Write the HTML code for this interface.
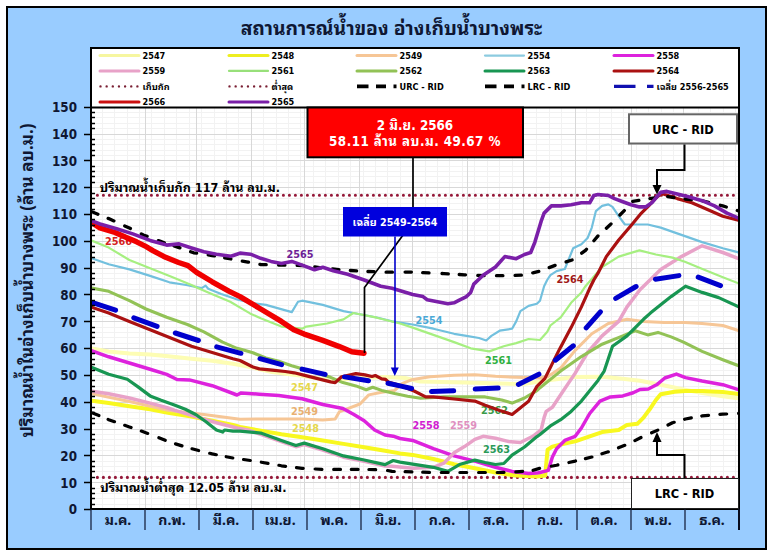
<!DOCTYPE html><html><head><meta charset="utf-8"><style>html,body{margin:0;padding:0;background:#fff;width:773px;height:556px;overflow:hidden}svg{display:block}text{font-family:'DejaVu Sans Condensed','Noto Sans Thai Looped','Loma',sans-serif;font-weight:bold}</style></head><body>
<svg width="773" height="556" viewBox="0 0 773 556">
<rect x="7" y="7" width="759" height="542" fill="#99ccff" stroke="#000" stroke-width="2"/>
<text x="391.5" y="35" text-anchor="middle" font-size="19.3" fill="#0f1733" style="font-family:'Noto Sans Thai Looped','Loma','DejaVu Sans Condensed',sans-serif">สถานการณ์น้ำของ อ่างเก็บน้ำบางพระ</text>
<rect x="91" y="107" width="648" height="401.5" fill="#fff"/>
<path d="M92 504.5H738 M92 498.5H738 M92 493.5H738 M92 488.5H738 M92 477.5H738 M92 471.5H738 M92 466.5H738 M92 461.5H738 M92 450.5H738 M92 445.5H738 M92 439.5H738 M92 434.5H738 M92 423.5H738 M92 418.5H738 M92 412.5H738 M92 407.5H738 M92 396.5H738 M92 391.5H738 M92 386.5H738 M92 380.5H738 M92 370.5H738 M92 364.5H738 M92 359.5H738 M92 353.5H738 M92 343.5H738 M92 337.5H738 M92 332.5H738 M92 327.5H738 M92 316.5H738 M92 311.5H738 M92 305.5H738 M92 300.5H738 M92 289.5H738 M92 284.5H738 M92 278.5H738 M92 273.5H738 M92 262.5H738 M92 257.5H738 M92 252.5H738 M92 246.5H738 M92 235.5H738 M92 230.5H738 M92 225.5H738 M92 219.5H738 M92 209.5H738 M92 203.5H738 M92 198.5H738 M92 193.5H738 M92 182.5H738 M92 176.5H738 M92 171.5H738 M92 166.5H738 M92 155.5H738 M92 150.5H738 M92 144.5H738 M92 139.5H738 M92 128.5H738 M92 123.5H738 M92 117.5H738 M92 112.5H738 M102.5 108V508 M114.5 108V508 M127.5 108V508 M139.5 108V508 M151.5 108V508 M164.5 108V508 M176.5 108V508 M189.5 108V508 M201.5 108V508 M214.5 108V508 M226.5 108V508 M238.5 108V508 M263.5 108V508 M276.5 108V508 M288.5 108V508 M300.5 108V508 M313.5 108V508 M325.5 108V508 M338.5 108V508 M350.5 108V508 M363.5 108V508 M375.5 108V508 M387.5 108V508 M400.5 108V508 M425.5 108V508 M437.5 108V508 M449.5 108V508 M462.5 108V508 M474.5 108V508 M487.5 108V508 M499.5 108V508 M512.5 108V508 M536.5 108V508 M549.5 108V508 M561.5 108V508 M586.5 108V508 M599.5 108V508 M611.5 108V508 M623.5 108V508 M636.5 108V508 M648.5 108V508 M661.5 108V508 M673.5 108V508 M698.5 108V508 M710.5 108V508 M723.5 108V508 M735.5 108V508" stroke="#f2f2f2" stroke-width="1" fill="none"/>
<path d="M92 482.5H738 M92 455.5H738 M92 429.5H738 M92 402.5H738 M92 375.5H738 M92 348.5H738 M92 321.5H738 M92 294.5H738 M92 268.5H738 M92 241.5H738 M92 214.5H738 M92 187.5H738 M92 160.5H738 M92 134.5H738 M145.5 108V508 M196.5 108V508 M251.5 108V508 M304.5 108V508 M359.5 108V508 M412.5 108V508 M467.5 108V508 M523.5 108V508 M575.5 108V508 M631.5 108V508 M683.5 108V508" stroke="#d8d8d8" stroke-width="1" fill="none"/>
<line x1="97.4" y1="195.3" x2="738" y2="195.3" stroke="#951a3a" stroke-width="3.1" stroke-dasharray="0 6" stroke-linecap="round"/>
<line x1="97.4" y1="477.4" x2="738" y2="477.4" stroke="#951a3a" stroke-width="3.1" stroke-dasharray="0 6" stroke-linecap="round"/>
<text x="99.8" y="191.6" font-size="12.55" fill="#000">ปริมาณน้ำเก็บกัก 117 ล้าน ลบ.ม.</text>
<text x="100.2" y="491.8" font-size="12.65" fill="#000">ปริมาณน้ำต่ำสุด 12.05 ล้าน ลบ.ม.</text>
<text x="105" y="245" font-size="10.8" fill="#d42020">2566</text>
<text x="286.5" y="258.2" font-size="10.8" fill="#6e1e96">2565</text>
<text x="415.5" y="324.3" font-size="10.8" fill="#49a8d6">2554</text>
<text x="485" y="363.7" font-size="10.8" fill="#2fb040">2561</text>
<text x="556.5" y="283.4" font-size="10.8" fill="#a01818">2564</text>
<text x="291" y="391" font-size="10.8" fill="#e6d84a">2547</text>
<text x="291" y="414.8" font-size="10.8" fill="#e8b070">2549</text>
<text x="292" y="432.4" font-size="10.8" fill="#e6d84a">2548</text>
<text x="412.5" y="428.8" font-size="10.8" fill="#d020d0">2558</text>
<text x="450" y="428.8" font-size="10.8" fill="#e090c0">2559</text>
<text x="481" y="413.8" font-size="10.8" fill="#3a9a48">2562</text>
<text x="483" y="452.7" font-size="10.8" fill="#2a9a58">2563</text>
<defs><clipPath id="pc"><rect x="92" y="108" width="646" height="400"/></clipPath></defs><g clip-path="url(#pc)">
<polyline points="91.0,348.3 108.7,351.4 129.4,353.5 150.1,354.5 170.8,356.6 191.5,358.7 212.2,360.7 232.9,363.8 248.0,366.5 272.0,372.0 300.0,375.5 330.0,380.5 360.0,378.0 385.0,377.0 405.0,378.0 420.0,381.5 464.5,382.5 500.0,383.5 523.0,384.0 550.0,380.0 575.0,377.0 602.1,376.8 622.8,378.8 640.0,380.7 660.7,384.8 681.4,389.0 702.1,393.1 722.8,396.2 739.0,398.3" fill="none" stroke="#fdfdb4" stroke-width="4" stroke-linejoin="round" stroke-linecap="round"/>
<polyline points="91.0,400.5 108.7,403.1 129.4,406.2 150.1,409.3 168.0,412.8 191.5,416.6 212.2,420.7 232.9,424.9 240.0,427.0 260.7,430.6 281.4,434.2 302.1,437.3 322.8,440.4 343.5,443.9 364.2,447.2 385.0,450.7 400.0,453.4 412.7,454.9 433.4,459.0 454.1,464.2 474.8,468.3 495.5,472.5 516.2,475.6 536.9,476.6 545.2,475.6 546.5,461.0 547.6,449.7 552.4,446.6 564.8,443.5 575.2,441.4 589.7,436.3 602.1,432.1 618.7,430.0 627.0,424.9 637.3,423.8 643.5,417.6 649.7,409.3 655.9,400.0 660.7,394.2 674.6,391.7 685.5,391.1 702.1,391.1 722.8,392.1 739.0,394.2" fill="none" stroke="#f8f820" stroke-width="4" stroke-linejoin="round" stroke-linecap="round"/>
<polyline points="91.0,393.5 129.4,401.5 168.0,410.2 204.0,414.5 240.0,419.3 260.7,419.0 281.4,419.0 302.1,419.0 322.8,420.0 335.2,419.0 339.4,411.8 347.7,408.7 360.0,404.0 368.8,394.9 381.7,392.3 394.7,390.4 402.4,383.3 412.8,379.4 430.0,376.8 454.1,375.2 474.8,374.8 495.5,376.3 516.2,377.3 532.8,377.8 540.0,378.0 548.0,376.5 560.7,368.0 575.2,350.4 591.8,333.8 608.3,323.5 627.0,319.3 643.5,321.4 664.2,322.4 684.9,322.4 702.1,323.5 722.8,325.5 739.0,330.7" fill="none" stroke="#f6c696" stroke-width="3" stroke-linejoin="round" stroke-linecap="round"/>
<polyline points="91.0,258.0 108.7,264.2 129.4,269.4 150.1,275.9 169.4,282.3 186.2,285.0 201.7,288.2 205.6,285.6 208.2,288.8 221.2,294.0 238.0,299.8 252.0,303.0 265.9,304.9 291.8,312.1 298.0,301.8 302.1,300.7 322.8,304.9 343.5,311.1 353.4,313.0 376.8,317.5 392.0,321.3 412.7,324.5 433.4,328.7 454.1,333.8 466.5,335.9 479.0,338.0 486.2,340.5 491.4,335.9 499.7,330.7 512.1,328.7 516.2,321.4 520.4,311.1 528.6,305.9 536.9,303.8 540.0,300.7 544.1,286.2 547.2,280.0 550.4,275.2 556.6,271.1 564.8,269.0 569.0,258.7 573.1,248.3 581.4,244.2 587.6,238.0 591.8,227.6 595.9,211.1 602.1,205.9 608.3,204.4 612.5,206.9 618.7,216.2 624.9,224.5 633.2,224.5 647.7,224.5 660.7,227.6 681.4,234.9 702.1,242.1 722.8,248.3 739.0,252.5" fill="none" stroke="#72c0de" stroke-width="2.2" stroke-linejoin="round" stroke-linecap="round"/>
<polyline points="91.0,350.6 108.7,356.8 129.4,363.0 150.1,369.2 166.7,374.4 177.0,379.5 189.4,379.9 212.2,385.7 237.0,395.0 241.2,392.9 259.4,394.2 278.8,395.5 302.1,398.7 322.8,404.5 342.9,408.5 353.9,414.5 364.2,420.7 374.6,430.0 385.0,435.0 393.2,436.2 400.0,438.5 412.7,440.4 433.4,448.7 454.1,455.9 474.8,461.1 495.5,467.3 512.1,471.4 528.6,473.5 536.9,473.1 540.0,472.5 548.3,470.4 552.4,457.0 556.6,448.7 564.8,440.4 575.2,436.3 581.4,428.0 589.7,413.5 600.0,401.1 610.4,396.9 622.8,395.9 633.2,392.8 640.0,389.5 648.3,389.0 656.6,384.8 664.8,378.0 676.4,374.1 685.5,377.6 702.1,381.0 722.8,384.7 739.0,389.8" fill="none" stroke="#dd22dd" stroke-width="3.5" stroke-linejoin="round" stroke-linecap="round"/>
<polyline points="91.0,391.0 108.7,393.8 129.4,398.0 150.1,403.1 168.0,408.0 175.0,410.4 195.7,416.6 216.4,422.8 237.0,428.0 248.0,430.0 260.7,434.3 281.4,441.6 295.9,446.7 304.2,444.5 322.8,450.0 343.5,457.2 364.2,461.3 385.0,466.0 392.0,466.3 412.7,468.3 433.4,467.3 443.8,463.2 454.1,452.8 464.5,446.6 474.8,439.4 483.1,436.3 495.5,438.3 508.0,441.4 520.4,442.5 532.8,436.3 541.1,430.0 544.1,417.6 546.2,411.4 552.4,407.3 560.7,394.8 569.0,382.4 575.2,373.2 587.6,352.5 602.1,335.9 618.7,321.4 627.0,306.9 640.0,289.7 660.7,269.5 681.4,256.6 702.1,245.8 722.8,252.5 739.0,258.7" fill="none" stroke="#e8a2c8" stroke-width="3.5" stroke-linejoin="round" stroke-linecap="round"/>
<polyline points="91.0,240.4 108.7,247.6 129.4,260.0 150.1,268.3 170.8,276.6 191.5,284.9 196.6,287.5 214.7,295.3 230.2,301.7 250.0,313.4 260.7,318.3 281.4,326.6 302.1,328.7 306.3,326.6 327.0,323.5 343.5,319.4 353.4,313.0 376.8,317.7 400.0,323.5 412.7,327.6 433.4,334.9 454.1,342.1 470.7,348.3 489.3,351.4 503.8,346.3 516.2,343.1 528.6,339.0 540.0,340.0 547.3,331.8 550.4,325.5 560.7,317.3 571.1,302.8 581.4,292.4 585.5,286.2 602.1,267.0 618.7,256.6 639.4,250.4 655.9,254.5 672.5,257.6 684.9,261.8 700.0,268.0 722.8,277.3 739.0,283.5" fill="none" stroke="#a6ef80" stroke-width="2.2" stroke-linejoin="round" stroke-linecap="round"/>
<polyline points="91.0,288.0 108.7,291.3 129.4,300.7 146.0,309.0 166.7,317.3 187.4,324.5 203.9,331.8 222.6,342.1 237.0,348.3 240.0,348.9 252.9,352.8 265.9,357.9 278.8,361.2 291.7,365.7 304.7,369.6 317.6,373.5 330.6,377.3 342.9,382.6 355.9,385.9 366.2,389.8 372.7,387.2 381.7,390.4 394.7,393.6 407.6,396.2 420.6,398.2 443.8,396.9 464.5,396.9 485.2,396.9 501.7,400.0 512.1,403.1 524.5,398.0 536.9,390.7 540.0,387.7 560.7,371.1 581.4,356.6 602.1,344.2 622.8,335.9 635.2,330.7 647.7,334.9 658.0,332.4 671.1,336.9 683.5,342.1 702.1,351.4 722.8,359.7 739.0,365.9" fill="none" stroke="#92c256" stroke-width="3.1" stroke-linejoin="round" stroke-linecap="round"/>
<polyline points="91.0,367.0 108.7,374.2 127.3,379.3 137.7,386.6 150.1,395.9 160.5,400.0 175.0,405.2 185.3,409.3 195.7,414.5 206.0,421.8 216.4,430.0 222.6,432.1 224.6,430.0 232.9,431.1 240.0,431.1 260.7,433.1 281.4,440.4 295.9,445.5 304.2,443.1 322.8,448.7 343.5,455.9 364.2,460.0 385.0,464.6 393.2,460.5 400.0,462.1 412.7,464.2 433.4,467.3 447.9,471.4 460.3,464.2 474.8,460.1 485.2,462.5 495.5,464.5 503.8,463.5 512.0,455.2 524.5,447.0 537.0,436.6 540.0,434.5 550.4,425.9 560.7,419.7 571.1,411.4 581.4,401.1 589.7,390.7 598.0,380.4 604.2,371.1 608.3,358.7 612.5,346.3 627.0,335.9 643.5,319.3 650.4,313.1 660.7,304.8 671.1,296.6 685.5,286.2 702.1,292.4 718.7,297.6 739.0,306.9" fill="none" stroke="#189652" stroke-width="3.2" stroke-linejoin="round" stroke-linecap="round"/>
<polyline points="91.0,307.0 108.7,313.1 129.4,321.4 150.1,329.7 170.8,338.0 191.5,346.3 212.2,352.5 232.9,358.7 240.0,360.5 252.9,367.0 259.4,368.9 272.3,370.2 285.3,371.5 294.3,372.8 304.7,375.4 317.6,378.6 330.6,381.9 335.2,382.6 341.6,376.8 355.9,373.6 364.9,374.9 372.0,376.5 375.3,375.5 381.7,378.8 385.6,379.4 388.2,382.0 401.2,385.9 414.1,391.0 425.7,396.9 433.4,396.9 454.1,399.0 474.8,401.1 485.2,405.2 499.7,410.4 512.1,414.5 520.5,407.7 528.6,401.2 536.7,386.7 544.8,378.6 551.3,365.6 559.4,349.4 571.1,327.6 581.4,306.9 589.7,288.3 593.8,280.0 598.0,273.2 606.3,256.6 618.7,240.0 631.1,225.5 641.4,213.1 649.7,204.8 655.9,197.6 662.2,193.5 664.8,194.5 677.3,198.6 691.8,202.8 706.3,209.0 722.8,216.2 739.0,220.4" fill="none" stroke="#aa1111" stroke-width="3.2" stroke-linejoin="round" stroke-linecap="round"/>
<path d="M92.5 212.0 L97.9 214.2 M108.1 218.4 L108.7 218.6 L113.9 220.9 M124.7 225.9 L129.4 228.0 L130.4 228.5 M141.3 233.9 L143.9 235.2 L147.1 236.4 M158.3 240.6 L160.5 241.4 L164.3 242.7 M174.0 245.9 L179.1 247.6 L179.9 247.9 M190.6 251.7 L193.6 252.8 L196.6 253.2 M208.2 254.9 L212.2 255.5 L214.5 255.9 M224.7 257.8 L230.9 259.0 L230.9 259.0 M242.3 261.1 L248.0 262.1 L248.5 262.2 M259.9 264.4 L260.7 264.5 L266.2 264.7 M278.6 265.0 L281.4 265.1 L284.9 265.2 M297.2 265.4 L302.1 265.5 L303.5 265.7 M314.8 267.0 L321.1 267.8 M332.6 269.0 L338.9 269.6 M350.3 270.5 L356.6 270.9 M367.9 271.5 L374.2 271.7 M386.1 272.2 L392.4 272.2 M405.1 272.1 L411.4 272.1 M422.7 272.6 L429.0 272.9 M442.0 273.5 L443.8 273.6 L448.3 273.9 M459.2 274.5 L464.5 274.8 L465.5 274.8 M477.8 275.4 L484.1 275.7 M496.5 275.7 L502.9 275.7 M515.1 275.4 L521.4 275.2 M532.7 272.8 L532.8 272.8 L538.8 271.4 M549.2 267.6 L555.1 265.4 M566.1 261.9 L572.1 260.0 M581.7 253.2 L585.5 250.4 L586.5 249.2 M593.9 240.7 L598.0 235.9 M606.4 228.2 L610.4 224.5 L611.0 223.9 M619.9 215.0 L624.3 210.6 M632.7 201.4 L638.9 200.4 M649.9 198.6 L655.9 197.6 L656.1 197.6 M667.7 196.7 L674.0 197.6 M685.1 199.0 L691.4 199.6 M702.5 200.8 L708.6 202.3 M720.3 205.3 L722.8 205.9 L726.3 207.0 M737.3 210.5 L739.0 211.1" fill="none" stroke="#000000" stroke-width="3.3" stroke-linejoin="round" stroke-linecap="round"/>
<path d="M92.6 413.1 L98.9 415.6 M108.1 419.4 L108.7 419.7 L114.5 421.7 M124.7 425.3 L129.4 426.9 L131.1 427.5 M141.3 431.1 L147.7 433.4 M158.9 437.7 L165.2 440.3 M175.5 443.9 L182.0 445.9 M192.0 448.8 L198.6 450.5 M209.7 453.3 L212.2 453.9 L216.3 454.7 M226.2 456.7 L232.8 458.0 M243.6 459.5 L250.3 460.5 M261.3 462.2 L268.0 463.4 M278.9 465.3 L281.4 465.8 L285.6 466.3 M296.5 467.6 L302.1 468.3 L303.2 468.4 M315.1 469.0 L321.9 469.4 M333.7 469.4 L340.5 469.4 M351.3 469.4 L358.1 469.4 M368.9 469.5 L375.7 469.7 M387.6 470.5 L392.0 471.4 L394.3 471.5 M405.1 471.7 L411.9 471.9 M422.7 472.2 L429.5 472.4 M441.3 472.5 L448.1 472.5 M459.9 472.5 L466.7 472.5 M478.6 472.5 L485.4 472.5 M497.2 472.5 L504.0 472.3 M515.8 471.9 L516.2 471.9 L522.6 471.3 M533.1 470.3 L539.6 468.4 M551.3 466.2 L556.6 465.2 L557.9 464.9 M568.9 462.5 L575.2 461.1 L575.5 461.0 M585.4 458.6 L591.8 457.0 L592.0 457.0 M601.9 453.8 L608.3 451.8 L608.4 451.8 M618.5 447.8 L624.8 445.3 M634.9 440.6 L641.0 437.5 M651.6 432.8 L657.8 430.1 M668.0 425.0 L672.5 422.8 L674.2 422.3 M684.6 419.3 L685.5 419.0 L691.3 417.9 M701.8 416.0 L702.1 415.9 L708.5 415.4 M719.9 414.4 L722.8 414.2 L726.7 414.0 M738.6 413.4 L739.0 413.4" fill="none" stroke="#000000" stroke-width="3.2" stroke-linejoin="round" stroke-linecap="round"/>
<path d="M93.4 302.8 L115.6 310.2 M133.8 317.8 L157.1 326.3 M175.3 333.0 L198.4 340.5 M216.7 346.9 L240.9 353.3 M260.0 358.7 L281.6 364.7 M302.1 369.1 L325.1 374.4 M344.5 376.9 L368.5 380.8 M388.0 383.2 L400.0 385.9 L411.6 388.5 M431.5 391.6 L453.7 390.8 M475.2 389.1 L498.2 388.1 M518.4 384.4 L538.9 374.2 M555.4 360.2 L573.3 345.8 M586.2 327.8 L600.4 311.9 M615.7 298.4 L636.1 286.5 M655.4 279.2 L678.9 275.6 M698.2 277.2 L720.5 285.7 M739.0 293.0" fill="none" stroke="#0000cc" stroke-width="5" stroke-linejoin="round" stroke-linecap="round"/>
<polyline points="91.0,222.0 100.0,228.0 115.0,232.5 125.8,237.3 136.6,241.8 144.7,245.8 152.8,250.6 165.6,257.3 178.6,262.5 188.0,265.6 196.6,272.4 212.2,281.8 228.8,291.1 240.0,296.6 260.7,309.0 281.4,321.4 293.8,329.7 304.2,334.1 322.8,340.4 339.4,346.6 351.8,351.7 364.0,353.2" fill="none" stroke="#f00000" stroke-width="5.4" stroke-linejoin="round" stroke-linecap="round"/>
<polyline points="91.0,220.5 100.0,224.0 116.6,228.8 132.8,233.9 150.1,240.4 166.7,245.1 179.1,243.9 191.5,248.0 203.9,251.8 216.4,254.2 230.9,256.3 237.0,254.2 240.0,253.1 250.4,254.2 260.7,258.3 271.0,261.4 281.4,263.5 291.8,261.4 302.1,265.1 314.5,269.7 322.8,267.2 333.2,270.7 347.7,274.2 364.2,280.0 380.8,286.3 392.0,288.3 412.7,294.5 423.0,296.6 427.2,299.7 437.5,301.7 447.9,303.8 454.1,302.8 458.3,300.7 466.5,296.6 470.7,292.4 473.8,284.1 483.1,275.2 495.5,267.0 504.8,256.6 516.2,258.7 524.5,254.5 530.7,252.5 534.9,242.1 541.1,221.4 544.1,213.1 551.4,205.9 560.7,205.9 571.1,204.8 581.4,202.8 589.7,202.8 593.8,195.5 598.0,194.5 608.3,195.5 614.5,198.6 622.8,201.7 631.1,204.8 639.4,206.9 645.6,206.9 651.8,202.8 658.0,195.5 660.7,192.4 666.9,191.4 675.2,193.5 687.6,196.6 702.1,200.7 714.5,205.9 727.0,213.1 739.0,218.3" fill="none" stroke="#7a1fa8" stroke-width="3.6" stroke-linejoin="round" stroke-linecap="round"/>
</g>
<rect x="91" y="48" width="648" height="59.5" fill="#fff" stroke="#000" stroke-width="2"/>
<line x1="100" y1="55.6" x2="139" y2="55.6" stroke="#f6f6a0" stroke-width="3" stroke-linecap="round"/>
<text x="142.5" y="59.0" font-size="9.1" fill="#000">2547</text>
<line x1="229" y1="55.6" x2="268" y2="55.6" stroke="#eeee20" stroke-width="3" stroke-linecap="round"/>
<text x="271.5" y="59.0" font-size="9.1" fill="#000">2548</text>
<line x1="357" y1="55.6" x2="396" y2="55.6" stroke="#f6c696" stroke-width="3" stroke-linecap="round"/>
<text x="399.5" y="59.0" font-size="9.1" fill="#000">2549</text>
<line x1="485" y1="55.6" x2="524" y2="55.6" stroke="#8ccbe0" stroke-width="2.2" stroke-linecap="round"/>
<text x="527.5" y="59.0" font-size="9.1" fill="#000">2554</text>
<line x1="614" y1="55.6" x2="653" y2="55.6" stroke="#dd22dd" stroke-width="3" stroke-linecap="round"/>
<text x="656.5" y="59.0" font-size="9.1" fill="#000">2558</text>
<line x1="100" y1="70.9" x2="139" y2="70.9" stroke="#e8a2c8" stroke-width="3" stroke-linecap="round"/>
<text x="142.5" y="74.30000000000001" font-size="9.1" fill="#000">2559</text>
<line x1="229" y1="70.9" x2="268" y2="70.9" stroke="#98e07a" stroke-width="2.2" stroke-linecap="round"/>
<text x="271.5" y="74.30000000000001" font-size="9.1" fill="#000">2561</text>
<line x1="357" y1="70.9" x2="396" y2="70.9" stroke="#92c256" stroke-width="3" stroke-linecap="round"/>
<text x="399.5" y="74.30000000000001" font-size="9.1" fill="#000">2562</text>
<line x1="485" y1="70.9" x2="524" y2="70.9" stroke="#189652" stroke-width="3" stroke-linecap="round"/>
<text x="527.5" y="74.30000000000001" font-size="9.1" fill="#000">2563</text>
<line x1="614" y1="70.9" x2="653" y2="70.9" stroke="#aa1111" stroke-width="3" stroke-linecap="round"/>
<text x="656.5" y="74.30000000000001" font-size="9.1" fill="#000">2564</text>
<line x1="100.5" y1="86.4" x2="139" y2="86.4" stroke="#7a1f33" stroke-width="2.4" stroke-dasharray="0 6.15" stroke-linecap="round"/>
<text x="142.5" y="89.80000000000001" font-size="9.1" fill="#000">เก็บกัก</text>
<line x1="229.5" y1="86.4" x2="268" y2="86.4" stroke="#7a1f33" stroke-width="2.4" stroke-dasharray="0 6.15" stroke-linecap="round"/>
<text x="271.5" y="89.80000000000001" font-size="9.1" fill="#000">ต่ำสุด</text>
<path d="M357 86.4h11.5M376 86.4h10M393.5 86.4h3" stroke="#000" stroke-width="3.6" fill="none"/>
<text x="399.5" y="89.80000000000001" font-size="9.1" fill="#000">URC - RID</text>
<path d="M485 86.4h11.5M504 86.4h10M521.5 86.4h3" stroke="#000" stroke-width="3.6" fill="none"/>
<text x="527.5" y="89.80000000000001" font-size="9.1" fill="#000">LRC - RID</text>
<path d="M614 86.4h21.5M647 86.4h6.5" stroke="#1010b0" stroke-width="3.4" stroke-linecap="butt" fill="none"/>
<text x="656.5" y="89.80000000000001" font-size="9.1" fill="#000">เฉลี่ย 2556-2565</text>
<line x1="100" y1="102" x2="139" y2="102" stroke="#cc1010" stroke-width="3" stroke-linecap="round"/>
<text x="142.5" y="105.4" font-size="9.1" fill="#000">2566</text>
<line x1="229" y1="102" x2="268" y2="102" stroke="#7a1fa8" stroke-width="3" stroke-linecap="round"/>
<text x="271.5" y="105.4" font-size="9.1" fill="#000">2565</text>
<path d="M91 107V510M90 509H740" stroke="#000" stroke-width="2" fill="none"/>
<path d="M739 107V530" stroke="#000" stroke-width="2" fill="none"/>
<path d="M84 509.5H91 M91 504.5H95 M91 498.5H95 M91 493.5H95 M91 488.5H95 M84 482.5H91 M91 477.5H95 M91 471.5H95 M91 466.5H95 M91 461.5H95 M84 455.5H91 M91 450.5H95 M91 445.5H95 M91 439.5H95 M91 434.5H95 M84 429.5H91 M91 423.5H95 M91 418.5H95 M91 412.5H95 M91 407.5H95 M84 402.5H91 M91 396.5H95 M91 391.5H95 M91 386.5H95 M91 380.5H95 M84 375.5H91 M91 370.5H95 M91 364.5H95 M91 359.5H95 M91 353.5H95 M84 348.5H91 M91 343.5H95 M91 337.5H95 M91 332.5H95 M91 327.5H95 M84 321.5H91 M91 316.5H95 M91 311.5H95 M91 305.5H95 M91 300.5H95 M84 294.5H91 M91 289.5H95 M91 284.5H95 M91 278.5H95 M91 273.5H95 M84 268.5H91 M91 262.5H95 M91 257.5H95 M91 252.5H95 M91 246.5H95 M84 241.5H91 M91 235.5H95 M91 230.5H95 M91 225.5H95 M91 219.5H95 M84 214.5H91 M91 209.5H95 M91 203.5H95 M91 198.5H95 M91 193.5H95 M84 187.5H91 M91 182.5H95 M91 176.5H95 M91 171.5H95 M91 166.5H95 M84 160.5H91 M91 155.5H95 M91 150.5H95 M91 144.5H95 M91 139.5H95 M84 134.5H91 M91 128.5H95 M91 123.5H95 M91 117.5H95 M91 112.5H95 M84 107.5H91" stroke="#000" stroke-width="1.3" fill="none"/>
<text x="77" y="514.3" text-anchor="end" font-size="13.3" fill="#0f1733">0</text>
<text x="77" y="487.5" text-anchor="end" font-size="13.3" fill="#0f1733">10</text>
<text x="77" y="460.7" text-anchor="end" font-size="13.3" fill="#0f1733">20</text>
<text x="77" y="433.8" text-anchor="end" font-size="13.3" fill="#0f1733">30</text>
<text x="77" y="407.0" text-anchor="end" font-size="13.3" fill="#0f1733">40</text>
<text x="77" y="380.2" text-anchor="end" font-size="13.3" fill="#0f1733">50</text>
<text x="77" y="353.4" text-anchor="end" font-size="13.3" fill="#0f1733">60</text>
<text x="77" y="326.6" text-anchor="end" font-size="13.3" fill="#0f1733">70</text>
<text x="77" y="299.7" text-anchor="end" font-size="13.3" fill="#0f1733">80</text>
<text x="77" y="272.9" text-anchor="end" font-size="13.3" fill="#0f1733">90</text>
<text x="77" y="246.1" text-anchor="end" font-size="13.3" fill="#0f1733">100</text>
<text x="77" y="219.3" text-anchor="end" font-size="13.3" fill="#0f1733">110</text>
<text x="77" y="192.5" text-anchor="end" font-size="13.3" fill="#0f1733">120</text>
<text x="77" y="165.6" text-anchor="end" font-size="13.3" fill="#0f1733">130</text>
<text x="77" y="138.8" text-anchor="end" font-size="13.3" fill="#0f1733">140</text>
<text x="77" y="112.0" text-anchor="end" font-size="13.3" fill="#0f1733">150</text>
<path d="M91 509V530 M145 509V530 M199 509V530 M253 509V530 M307 509V530 M361 509V530 M415 509V530 M469 509V530 M523 509V530 M577 509V530 M631 509V530 M685 509V530 M739 509V530" stroke="#0f1733" stroke-width="1.2" fill="none"/>
<text x="118" y="525" text-anchor="middle" font-size="14" fill="#0f1733" style="font-family:'Noto Sans Thai Looped','Loma','DejaVu Sans Condensed',sans-serif">ม.ค.</text>
<text x="172" y="525" text-anchor="middle" font-size="14" fill="#0f1733" style="font-family:'Noto Sans Thai Looped','Loma','DejaVu Sans Condensed',sans-serif">ก.พ.</text>
<text x="226" y="525" text-anchor="middle" font-size="14" fill="#0f1733" style="font-family:'Noto Sans Thai Looped','Loma','DejaVu Sans Condensed',sans-serif">มี.ค.</text>
<text x="280" y="525" text-anchor="middle" font-size="14" fill="#0f1733" style="font-family:'Noto Sans Thai Looped','Loma','DejaVu Sans Condensed',sans-serif">เม.ย.</text>
<text x="334" y="525" text-anchor="middle" font-size="14" fill="#0f1733" style="font-family:'Noto Sans Thai Looped','Loma','DejaVu Sans Condensed',sans-serif">พ.ค.</text>
<text x="388" y="525" text-anchor="middle" font-size="14" fill="#0f1733" style="font-family:'Noto Sans Thai Looped','Loma','DejaVu Sans Condensed',sans-serif">มิ.ย.</text>
<text x="442" y="525" text-anchor="middle" font-size="14" fill="#0f1733" style="font-family:'Noto Sans Thai Looped','Loma','DejaVu Sans Condensed',sans-serif">ก.ค.</text>
<text x="496" y="525" text-anchor="middle" font-size="14" fill="#0f1733" style="font-family:'Noto Sans Thai Looped','Loma','DejaVu Sans Condensed',sans-serif">ส.ค.</text>
<text x="550" y="525" text-anchor="middle" font-size="14" fill="#0f1733" style="font-family:'Noto Sans Thai Looped','Loma','DejaVu Sans Condensed',sans-serif">ก.ย.</text>
<text x="604" y="525" text-anchor="middle" font-size="14" fill="#0f1733" style="font-family:'Noto Sans Thai Looped','Loma','DejaVu Sans Condensed',sans-serif">ต.ค.</text>
<text x="658" y="525" text-anchor="middle" font-size="14" fill="#0f1733" style="font-family:'Noto Sans Thai Looped','Loma','DejaVu Sans Condensed',sans-serif">พ.ย.</text>
<text x="712" y="525" text-anchor="middle" font-size="14" fill="#0f1733" style="font-family:'Noto Sans Thai Looped','Loma','DejaVu Sans Condensed',sans-serif">ธ.ค.</text>
<text transform="translate(33.4 280.5) rotate(-90)" text-anchor="middle" font-size="17.1" fill="#0f1733" style="font-family:'Noto Sans Thai Looped','Loma','DejaVu Sans Condensed',sans-serif">ปริมาณน้ำในอ่างเก็บน้ำบางพระ (ล้าน ลบ.ม.)</text>
<rect x="307.5" y="107.5" width="215.5" height="49.8" fill="#ff0000" stroke="#000" stroke-width="2"/>
<text x="415" y="130" text-anchor="middle" font-size="13.3" fill="#fff">2 มิ.ย. 2566</text>
<text x="415" y="145.6" text-anchor="middle" font-size="13.3" letter-spacing="0.45" fill="#fff">58.11 ล้าน ลบ.ม. 49.67 %</text>
<path d="M413 157.5V221.5L364.5 287.5V353" stroke="#000" stroke-width="1.7" fill="none"/>
<rect x="343" y="207" width="104" height="29.5" fill="#0000dd"/>
<text x="395" y="226.2" text-anchor="middle" font-size="10.7" fill="#fff">เฉลี่ย 2549-2564</text>
<path d="M395 236.5V369" stroke="#0000cc" stroke-width="1.6" fill="none"/><path d="M390.8 367.5H398.8L394.8 376Z" fill="#0000cc"/>
<rect x="629" y="114.3" width="108" height="29.2" fill="#fff" stroke="#666" stroke-width="2"/>
<text x="683" y="134" text-anchor="middle" font-size="12.7" fill="#000">URC - RID</text>
<path d="M684.5 144.5V170H657V186" stroke="#000" stroke-width="2" fill="none"/><path d="M652.5 185H661.5L657 194.5Z" fill="#000"/>
<rect x="631.5" y="478.5" width="107" height="30" fill="#fff" stroke="#222" stroke-width="1"/>
<text x="684.5" y="498" text-anchor="middle" font-size="12.7" fill="#000">LRC - RID</text>
<path d="M684.5 478V455H657V441" stroke="#000" stroke-width="2" fill="none"/><path d="M652.5 442H661.5L657 432Z" fill="#000"/>
</svg></body></html>
